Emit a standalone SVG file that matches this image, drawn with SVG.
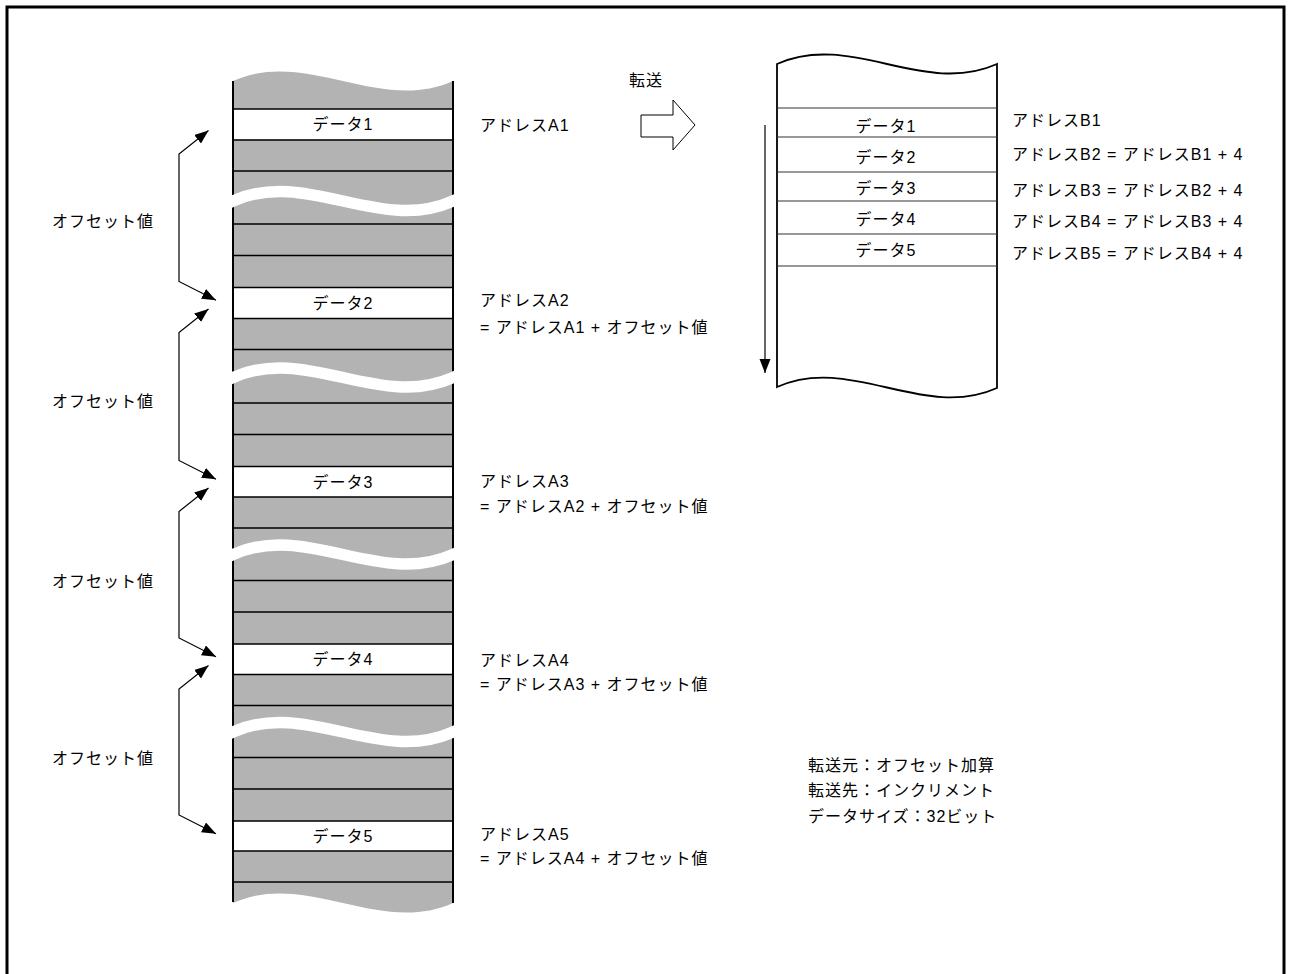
<svg xmlns="http://www.w3.org/2000/svg" width="1289" height="974" viewBox="0 0 1289 974">
<style>
  text { font-family: "Liberation Sans", "Noto Sans CJK JP", sans-serif; font-size: 16px; fill: #000; letter-spacing: 1px; }
  .mid { text-anchor: middle; }
  .gray { fill: #b3b3b3; }
  .row { fill: #fff; }
  .hl { stroke: #000; stroke-width: 1.5; fill: none; }
  .rl { stroke: #333; stroke-width: 1.2; fill: none; }
  .vb { stroke: #000; stroke-width: 2; fill: none; }
  .brk { stroke: #fff; stroke-width: 11.5; fill: none; }
  .conn { stroke: #000; stroke-width: 1.2; fill: none; }
</style>
<defs>
  <marker id="ah" markerUnits="userSpaceOnUse" markerWidth="16" markerHeight="12" refX="14" refY="5.5" orient="auto-start-reverse">
    <path d="M0,0 L14,5.5 L0,11 z" fill="#000"/>
  </marker>
</defs>

<!-- frame -->
<path d="M7,974 L7,7 L1284,7 L1284,974" fill="none" stroke="#000" stroke-width="3"/>

<!-- left memory column -->
<g id="src-column">
  <path class="gray" d="M233,81 C306.3,48 379.7,114 453,81 L453,903 C379.7,936 306.3,870 233,903 Z"/>
  <rect class="row" x="233" y="109" width="220" height="30.5"/>
  <rect class="row" x="233" y="287.5" width="220" height="31"/>
  <rect class="row" x="233" y="466.5" width="220" height="30.5"/>
  <rect class="row" x="233" y="644" width="220" height="30.5"/>
  <rect class="row" x="233" y="821" width="220" height="30"/>
  <g class="hl">
    <path d="M233,109H453 M233,140H453 M233,171H453"/>
    <path d="M233,224H453 M233,255.5H453 M233,287.5H453 M233,318.5H453 M233,349.5H453"/>
    <path d="M233,403H453 M233,434.5H453 M233,466.5H453 M233,497H453 M233,528H453"/>
    <path d="M233,580.5H453 M233,612H453 M233,644H453 M233,674.5H453 M233,705.5H453"/>
    <path d="M233,757.5H453 M233,789H453 M233,821H453 M233,851H453 M233,882H453"/>
  </g>
  <path class="vb" d="M233,81 V902 M453,81 V903"/>
  <g class="brk">
    <path d="M227,203.7 L233,201 C306.3,168 379.7,234 453,201 L459,198.3"/>
    <path d="M227,380.2 L233,377.5 C306.3,344.5 379.7,410.5 453,377.5 L459,374.8"/>
    <path d="M227,557.2 L233,554.5 C306.3,521.5 379.7,587.5 453,554.5 L459,551.8"/>
    <path d="M227,734.7 L233,732 C306.3,699 379.7,765 453,732 L459,729.3"/>
  </g>
  <text class="mid" x="343" y="130">データ1</text>
  <text class="mid" x="343" y="309">データ2</text>
  <text class="mid" x="343" y="488">データ3</text>
  <text class="mid" x="343" y="665">データ4</text>
  <text class="mid" x="343" y="842">データ5</text>
</g>

<!-- source address labels -->
<g id="src-labels">
  <text x="480" y="131">アドレスA1</text>
  <text x="480" y="306">アドレスA2</text>
  <text x="480" y="333">= アドレスA1 + オフセット値</text>
  <text x="480" y="487">アドレスA3</text>
  <text x="480" y="512">= アドレスA2 + オフセット値</text>
  <text x="480" y="666">アドレスA4</text>
  <text x="480" y="690">= アドレスA3 + オフセット値</text>
  <text x="480" y="840">アドレスA5</text>
  <text x="480" y="864">= アドレスA4 + オフセット値</text>
</g>

<!-- offset labels -->
<g id="offset-labels">
  <text x="52" y="227">オフセット値</text>
  <text x="52" y="407">オフセット値</text>
  <text x="52" y="587">オフセット値</text>
  <text x="52" y="764">オフセット値</text>
</g>

<!-- connectors -->
<g id="connectors">
  <polyline class="conn" points="208.5,130.5 179,154 179,281.5 216,300.2" marker-start="url(#ah)" marker-end="url(#ah)"/>
  <polyline class="conn" points="208.5,309 179,332.5 179,460.5 216,479.2" marker-start="url(#ah)" marker-end="url(#ah)"/>
  <polyline class="conn" points="208.5,488 179,511.5 179,638 216,656.7" marker-start="url(#ah)" marker-end="url(#ah)"/>
  <polyline class="conn" points="208.5,665.5 179,689 179,815 216,833.7" marker-start="url(#ah)" marker-end="url(#ah)"/>
  <line class="conn" x1="765" y1="125" x2="765" y2="373" marker-end="url(#ah)"/>
</g>

<!-- transfer arrow -->
<g id="transfer">
  <polygon points="641,115 673,115 673,100 695,125 673,150 673,137 641,137" fill="#fff" stroke="#000" stroke-width="1"/>
  <text x="629" y="86">転送</text>
</g>

<!-- destination column -->
<g id="dst-column">
  <path d="M777,64 C850.3,31 923.7,97 997,64 L997,388 C923.7,421 850.3,354 777,387 Z" fill="#fff" stroke="#000" stroke-width="1.8"/>
  <path class="rl" d="M777,108H997 M777,137H997 M777,172H997 M777,201H997 M777,234H997 M777,266H997"/>
  <text class="mid" x="886" y="132">データ1</text>
  <text class="mid" x="886" y="163">データ2</text>
  <text class="mid" x="886" y="194">データ3</text>
  <text class="mid" x="886" y="225">データ4</text>
  <text class="mid" x="886" y="256">データ5</text>
</g>

<!-- destination address labels -->
<g id="dst-labels">
  <text x="1012" y="126">アドレスB1</text>
  <text x="1012" y="160">アドレスB2 = アドレスB1 + 4</text>
  <text x="1012" y="196">アドレスB3 = アドレスB2 + 4</text>
  <text x="1012" y="227">アドレスB4 = アドレスB3 + 4</text>
  <text x="1012" y="259">アドレスB5 = アドレスB4 + 4</text>
</g>

<!-- notes -->
<g id="notes">
  <text x="808" y="771">転送元：オフセット加算</text>
  <text x="808" y="796">転送先：インクリメント</text>
  <text x="808" y="822">データサイズ：32ビット</text>
</g>
</svg>
